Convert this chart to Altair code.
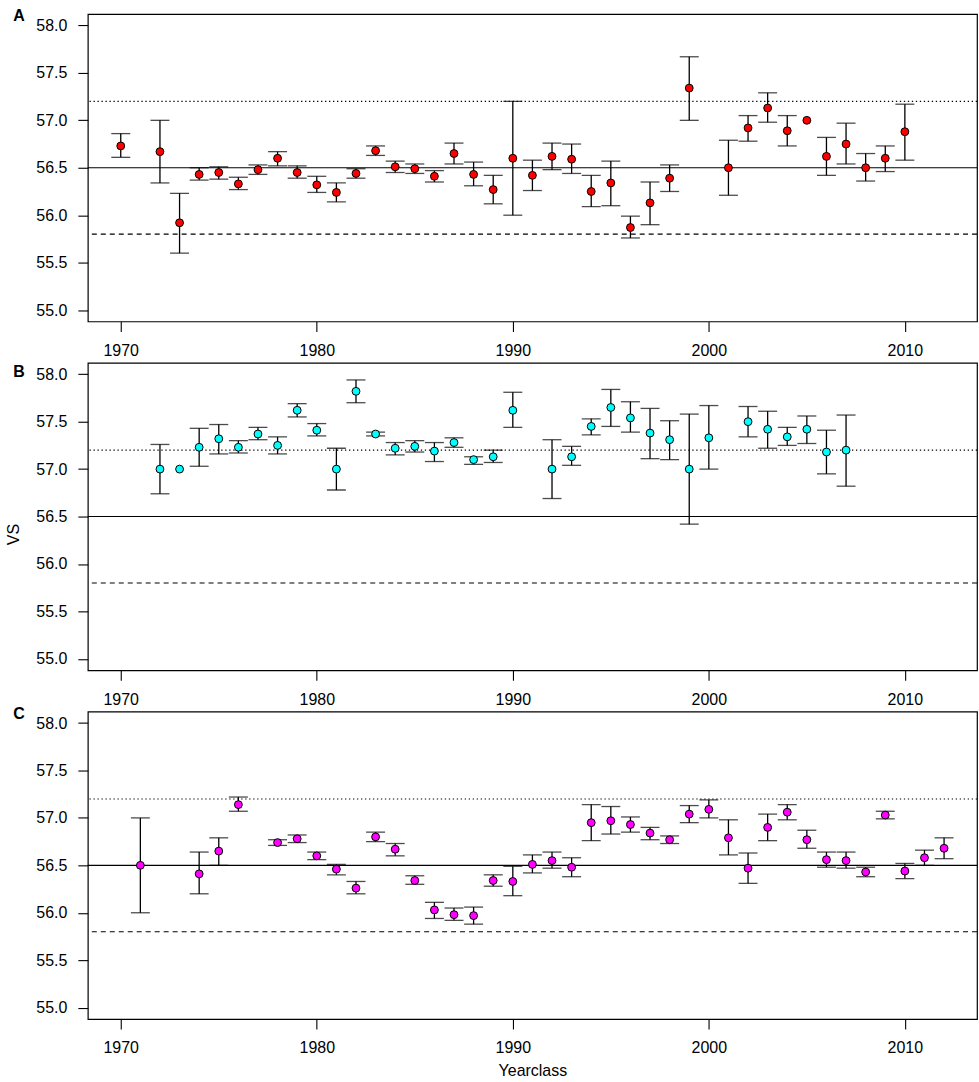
import altair as alt
import pandas as pd

# ---------------- data ----------------
A_YEARS = [1970, 1972, 1973, 1974, 1975, 1976, 1977, 1978, 1979, 1980, 1981, 1982, 1983, 1984,
           1985, 1986, 1987, 1988, 1989, 1990, 1991, 1992, 1993, 1994, 1995, 1996, 1997, 1998,
           1999, 2001, 2002, 2003, 2004, 2005, 2006, 2007, 2008, 2009, 2010]
A_VS = [56.73, 56.67, 55.92, 56.43, 56.45, 56.33, 56.48, 56.60, 56.45, 56.32, 56.24, 56.44, 56.68, 56.51,
        56.49, 56.41, 56.65, 56.43, 56.27, 56.60, 56.42, 56.62, 56.59, 56.25, 56.34, 55.87, 56.13, 56.39,
        57.34, 56.50, 56.92, 57.13, 56.89, 57.00, 56.62, 56.75, 56.50, 56.60, 56.88]
A_HI = [56.86, 57.00, 56.23, 56.50, 56.51, 56.40, 56.53, 56.67, 56.52, 56.41, 56.34, 56.49, 56.73, 56.57,
        56.54, 56.47, 56.76, 56.56, 56.42, 57.20, 56.58, 56.76, 56.75, 56.42, 56.57, 55.99, 56.35, 56.53,
        57.67, 56.79, 57.05, 57.29, 57.05, None, 56.82, 56.97, 56.65, 56.73, 57.17]
A_LO = [56.61, 56.34, 55.60, 56.37, 56.38, 56.27, 56.43, 56.52, 56.39, 56.24, 56.14, 56.39, 56.63, 56.45,
        56.44, 56.35, 56.54, 56.31, 56.12, 56.00, 56.26, 56.48, 56.44, 56.09, 56.10, 55.76, 55.90, 56.25,
        57.00, 56.21, 56.78, 56.98, 56.73, None, 56.42, 56.54, 56.36, 56.46, 56.58]

B_YEARS = [1972, 1973, 1974, 1975, 1976, 1977, 1978, 1979, 1980, 1981, 1982, 1983, 1984, 1985, 1986,
           1987, 1988, 1989, 1990, 1992, 1993, 1994, 1995, 1996, 1997, 1998, 1999, 2000, 2002, 2003,
           2004, 2005, 2006, 2007]
B_VS = [57.00, 57.00, 57.23, 57.32, 57.23, 57.37, 57.25, 57.62, 57.41, 57.00, 57.82, 57.37, 57.22, 57.24,
        57.19, 57.28, 57.10, 57.13, 57.62, 57.00, 57.13, 57.45, 57.65, 57.54, 57.38, 57.31, 57.00, 57.33,
        57.50, 57.42, 57.34, 57.42, 57.18, 57.20]
B_HI = [57.26, None, 57.43, 57.47, 57.30, 57.44, 57.34, 57.69, 57.48, 57.22, 57.94, 57.39, 57.28, 57.30,
        57.28, 57.33, 57.13, 57.20, 57.81, 57.31, 57.24, 57.53, 57.84, 57.71, 57.64, 57.51, 57.58, 57.67,
        57.66, 57.61, 57.44, 57.56, 57.41, 57.57]
B_LO = [56.74, None, 57.03, 57.16, 57.17, 57.31, 57.16, 57.55, 57.35, 56.78, 57.70, 57.35, 57.15, 57.18,
        57.08, 57.23, 57.05, 57.07, 57.44, 56.69, 57.04, 57.36, 57.45, 57.39, 57.11, 57.10, 56.42, 57.00,
        57.34, 57.22, 57.25, 57.27, 56.95, 56.82]

C_YEARS = [1971, 1974, 1975, 1976, 1978, 1979, 1980, 1981, 1982, 1983, 1984, 1985, 1986, 1987, 1988,
           1989, 1990, 1991, 1992, 1993, 1994, 1995, 1996, 1997, 1998, 1999, 2000, 2001, 2002, 2003,
           2004, 2005, 2006, 2007, 2008, 2009, 2010, 2011, 2012]
C_VS = [56.50, 56.41, 56.65, 57.14, 56.74, 56.78, 56.60, 56.46, 56.26, 56.80, 56.67, 56.34, 56.03, 55.98,
        55.97, 56.34, 56.33, 56.51, 56.55, 56.48, 56.95, 56.97, 56.93, 56.84, 56.77, 57.04, 57.09, 56.79,
        56.47, 56.90, 57.06, 56.77, 56.56, 56.55, 56.43, 57.03, 56.44, 56.58, 56.68]
C_HI = [57.00, 56.64, 56.79, 57.22, 56.77, 56.82, 56.64, 56.51, 56.33, 56.85, 56.73, 56.39, 56.11, 56.05,
        56.06, 56.40, 56.49, 56.61, 56.64, 56.58, 57.14, 57.12, 57.01, 56.90, 56.81, 57.13, 57.19, 56.98,
        56.63, 57.04, 57.14, 56.87, 56.64, 56.64, 56.48, 57.07, 56.52, 56.66, 56.79]
C_LO = [56.00, 56.20, 56.50, 57.07, 56.71, 56.74, 56.56, 56.40, 56.20, 56.75, 56.60, 56.30, 55.94, 55.92,
        55.88, 56.28, 56.18, 56.42, 56.47, 56.38, 56.76, 56.83, 56.85, 56.77, 56.73, 56.95, 57.00, 56.61,
        56.31, 56.76, 56.98, 56.68, 56.48, 56.47, 56.38, 56.99, 56.36, 56.50, 56.57]

REF_MEAN = 56.5
REF_UPPER = 57.2
REF_LOWER = 55.8

X_TICKS = [1970, 1980, 1990, 2000, 2010]
Y_TICKS = [55.0, 55.5, 56.0, 56.5, 57.0, 57.5, 58.0]
X_DOMAIN = [1968.32, 2013.68]
Y_DOMAIN = [54.88, 58.12]

PANELS = [
    ("A", A_YEARS, A_VS, A_LO, A_HI, "#FF0000"),
    ("B", B_YEARS, B_VS, B_LO, B_HI, "#00FFFF"),
    ("C", C_YEARS, C_VS, C_LO, C_HI, "#FF00FF"),
]

W, H = 891, 308
FONT = "Liberation Sans"

xscale = alt.Scale(domain=X_DOMAIN, nice=False, zero=False)
yscale = alt.Scale(domain=Y_DOMAIN, nice=False, zero=False)


def panel(letter, years, vs, lo, hi, color):
    df = pd.DataFrame({"year": years, "vs": vs, "lo": lo, "hi": hi})
    x = alt.X("year:Q", scale=xscale,
              axis=alt.Axis(values=X_TICKS, format="d", title=None, grid=False, domain=False,
                            tickSize=10, tickColor="black", labelPadding=11))
    y = alt.Y("vs:Q", scale=yscale,
              axis=alt.Axis(values=Y_TICKS, format=".1f", title=None, grid=False, domain=False,
                            tickSize=10, tickColor="black", labelPadding=11))

    base = alt.Chart(df)
    mean = alt.Chart(pd.DataFrame({"v": [REF_MEAN]})).mark_rule(color="black", strokeWidth=1.1).encode(
        y=alt.Y("v:Q", scale=yscale))
    upper = alt.Chart(pd.DataFrame({"v": [REF_UPPER]})).mark_rule(
        color="black", strokeWidth=1.1, strokeDash=[1.3, 2.7]).encode(y=alt.Y("v:Q", scale=yscale))
    lower = alt.Chart(pd.DataFrame({"v": [REF_LOWER]})).mark_rule(
        color="black", strokeWidth=1.1, strokeDash=[5, 4]).encode(y=alt.Y("v:Q", scale=yscale))

    valid = base.transform_filter("isValid(datum.lo) && isValid(datum.hi)")
    bars = valid.mark_rule(color="black", strokeWidth=1.3).encode(
        x=alt.X("year:Q", scale=xscale), y=alt.Y("lo:Q", scale=yscale), y2="hi:Q")
    cap_lo = valid.mark_tick(orient="horizontal", size=19, thickness=1.3, color="black").encode(
        x=alt.X("year:Q", scale=xscale), y=alt.Y("lo:Q", scale=yscale))
    cap_hi = valid.mark_tick(orient="horizontal", size=19, thickness=1.3, color="black").encode(
        x=alt.X("year:Q", scale=xscale), y=alt.Y("hi:Q", scale=yscale))
    pts = base.mark_point(filled=True, shape="circle", size=62, fill=color, stroke="black",
                          strokeWidth=1, opacity=1).encode(x=x, y=y)

    lab_y = {"A": 2, "B": 9, "C": 2}[letter]
    lab = alt.Chart(pd.DataFrame({"t": [letter]})).mark_text(
        font=FONT, fontSize=16, fontWeight="bold", align="center", baseline="middle", color="black"
    ).encode(text="t:N", x=alt.value(-69), y=alt.value(lab_y))

    layers = [mean, upper, lower, bars, cap_lo, cap_hi, pts, lab]
    if letter == "A":
        # invisible anchor fixing the top-left corner of the page
        anchor = alt.Chart(pd.DataFrame({"t": [0]})).mark_rule(
            stroke="transparent", strokeWidth=0).encode(
            x=alt.value(-87), x2=alt.value(-80), y=alt.value(-11.5))
        layers.append(anchor)
    if letter == "B":
        vs_lab = alt.Chart(pd.DataFrame({"t": ["VS"]})).mark_text(
            font=FONT, fontSize=16, angle=270, align="center", baseline="middle", color="black"
        ).encode(text="t:N", x=alt.value(-74), y=alt.value(172))
        layers.append(vs_lab)
    if letter == "C":
        xl = alt.Chart(pd.DataFrame({"t": ["Yearclass"]})).mark_text(
            font=FONT, fontSize=16, align="center", baseline="middle", color="black"
        ).encode(text="t:N", x=alt.value(446), y=alt.value(360))
        layers.append(xl)
    return alt.layer(*layers).properties(width=W, height=H)


charts = [panel(*p) for p in PANELS]

chart = alt.vconcat(*charts, spacing=41.5, bounds="flush").properties(
    padding=0,
).configure_view(
    stroke="black", strokeWidth=1.2
).configure_axis(
    labelFont=FONT, labelFontSize=16, labelColor="black", tickWidth=1.1
).configure_axisY(labelAlign="right", labelBaseline="middle")

chart.save("out.html", embed_options={"renderer": "svg", "actions": False})
